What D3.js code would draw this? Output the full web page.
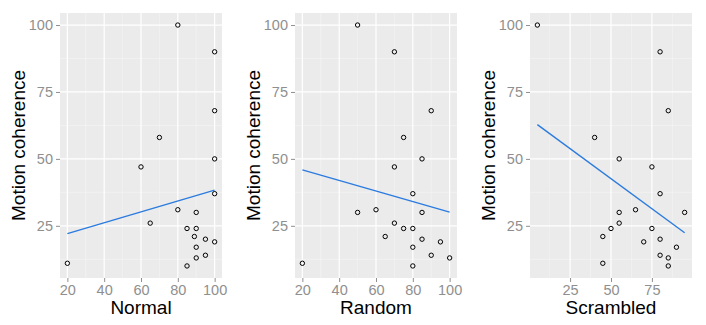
<!DOCTYPE html>
<html lang="en">
    <head>
        <meta charset="utf-8">
        <title>Motion coherence</title>
        <script type="text/javascript" src="https://d3js.org/d3.v7.min.js"></script>
        <style type="text/css">
            body {
                margin: 0;
                background: white;
            }
            svg {
                font-family: "Liberation Sans", Arial, sans-serif;
            }
        </style>
    </head>
    <body>
        <script type="text/javascript">

        // data
        const normalX = [20, 80, 100, 100, 70, 60, 100, 100, 80, 90, 65, 85, 90, 89, 95, 100, 90, 95, 90, 85];
        const normalY = [11, 100, 90, 68, 58, 47, 50, 37, 31, 30, 26, 24, 24, 21, 20, 19, 17, 14, 13, 10];

        const randomX = [50, 70, 90, 75, 85, 70, 80, 50, 60, 85, 70, 75, 80, 65, 85, 95, 80, 90, 100, 80, 20];
        const randomY = [100, 90, 68, 58, 50, 47, 37, 30, 31, 30, 26, 24, 24, 21, 20, 19, 17, 14, 13, 10, 11];

        const scrambledX = [5, 80, 85, 40, 55, 75, 80, 55, 65, 95, 55, 50, 75, 45, 80, 70, 90, 80, 85, 85, 45];
        const scrambledY = [100, 90, 68, 58, 50, 47, 37, 30, 31, 30, 26, 24, 24, 21, 20, 19, 17, 14, 13, 10, 11];

        // fitted lines (end points as seen in the picture)
        const normalFit = [[20, 22.1], [100, 38.3]];
        const randomFit = [[20, 45.9], [100, 30.1]];
        const scrambledFit = [[5, 62.8], [95, 22.4]];

        const normalTicks = [20, 40, 60, 80, 100];
        const scrambledTicks = [25, 50, 75];
        const yTicks = [25, 50, 75, 100];

        const panels = [
            {name: "Normal", xs: normalX, ys: normalY, fit: normalFit, ticks: normalTicks, left: 60},
            {name: "Random", xs: randomX, ys: randomY, fit: randomFit, ticks: normalTicks, left: 295},
            {name: "Scrambled", xs: scrambledX, ys: scrambledY, fit: scrambledFit, ticks: scrambledTicks, left: 530}
        ];

        const width = 706;
        const height = 325;
        const plotW = 162;
        const plotTop = 13;
        const plotBottom = 278;
        const tickGrey = "#8f8f8f";

        const svg = d3.select("body")
                    .append("svg")
                    .attr("width", width)
                    .attr("height", height);

        // ggplot style 5% padding around the data range
        function padded(values) {
            const [lo, hi] = d3.extent(values);
            const pad = (hi - lo) * 0.05;
            return [lo - pad, hi + pad];
        }

        function minors(ticks, domain) {
            const step = ticks[1] - ticks[0];
            const out = [];
            for (let v = ticks[0] - step / 2; v <= domain[1]; v += step) {
                if (v >= domain[0]) out.push(v);
            }
            return out;
        }

        panels.forEach(p => {
            const xScale = d3.scaleLinear()
                            .domain(padded(p.xs))
                            .range([p.left, p.left + plotW]);
            const yScale = d3.scaleLinear()
                            .domain(padded(p.ys))
                            .range([plotBottom, plotTop]);

            const g = svg.append("g");

            g.append("rect")
                .attr("x", p.left)
                .attr("y", plotTop)
                .attr("width", plotW)
                .attr("height", plotBottom - plotTop)
                .attr("fill", "#ebebeb");

            // minor grid
            g.selectAll(".vminor")
                .data(minors(p.ticks, xScale.domain()))
                .enter()
                .append("line")
                .attr("x1", d => xScale(d)).attr("x2", d => xScale(d))
                .attr("y1", plotTop).attr("y2", plotBottom)
                .attr("stroke", "#f5f5f5")
                .attr("stroke-width", 0.6);

            g.selectAll(".hminor")
                .data(minors(yTicks, yScale.domain()))
                .enter()
                .append("line")
                .attr("y1", d => yScale(d)).attr("y2", d => yScale(d))
                .attr("x1", p.left).attr("x2", p.left + plotW)
                .attr("stroke", "#f5f5f5")
                .attr("stroke-width", 0.6);

            // major grid
            g.selectAll(".vmajor")
                .data(p.ticks)
                .enter()
                .append("line")
                .attr("x1", d => xScale(d)).attr("x2", d => xScale(d))
                .attr("y1", plotTop).attr("y2", plotBottom)
                .attr("stroke", "white")
                .attr("stroke-width", 1.2);

            g.selectAll(".hmajor")
                .data(yTicks)
                .enter()
                .append("line")
                .attr("y1", d => yScale(d)).attr("y2", d => yScale(d))
                .attr("x1", p.left).attr("x2", p.left + plotW)
                .attr("stroke", "white")
                .attr("stroke-width", 1.2);

            // axes
            const bottomAxis = d3.axisBottom(xScale)
                                .tickValues(p.ticks)
                                .tickSize(4)
                                .tickPadding(3);
            const leftAxis = d3.axisLeft(yScale)
                                .tickValues(yTicks)
                                .tickSize(4)
                                .tickPadding(3);

            const bx = g.append("g")
                .attr("transform", "translate(0," + plotBottom + ")")
                .call(bottomAxis);
            const ly = g.append("g")
                .attr("transform", "translate(" + p.left + ",0)")
                .call(leftAxis);

            [bx, ly].forEach(a => {
                a.select(".domain").remove();
                a.selectAll("line").attr("stroke", tickGrey);
                a.selectAll("text")
                    .attr("fill", tickGrey)
                    .style("font-family", "Liberation Sans, Arial, sans-serif")
                    .style("font-size", "14.5px");
            });

            // fitted line
            g.append("path")
                .datum(p.fit)
                .attr("d", d3.line().x(d => xScale(d[0])).y(d => yScale(d[1])))
                .attr("fill", "none")
                .attr("stroke", "#2b7bdf")
                .attr("stroke-width", 1.4);

            // points
            g.selectAll("circle")
                .data(p.xs.map((x, i) => [x, p.ys[i]]))
                .enter()
                .append("circle")
                .attr("cx", d => xScale(d[0]))
                .attr("cy", d => yScale(d[1]))
                .attr("r", 2.2)
                .attr("fill", "none")
                .attr("stroke", "black")
                .attr("stroke-width", 1);

            // titles
            g.append("text")
                .attr("x", p.left + plotW / 2)
                .attr("y", 314)
                .attr("text-anchor", "middle")
                .style("font-size", "19px")
                .attr("fill", "black")
                .text(p.name);

            g.append("text")
                .attr("transform", "translate(" + (p.left - 35) + "," + ((plotTop + plotBottom) / 2) + ") rotate(-90)")
                .attr("text-anchor", "middle")
                .style("font-size", "19px")
                .attr("fill", "black")
                .text("Motion coherence");
        });

        </script>
    </body>
</html>
